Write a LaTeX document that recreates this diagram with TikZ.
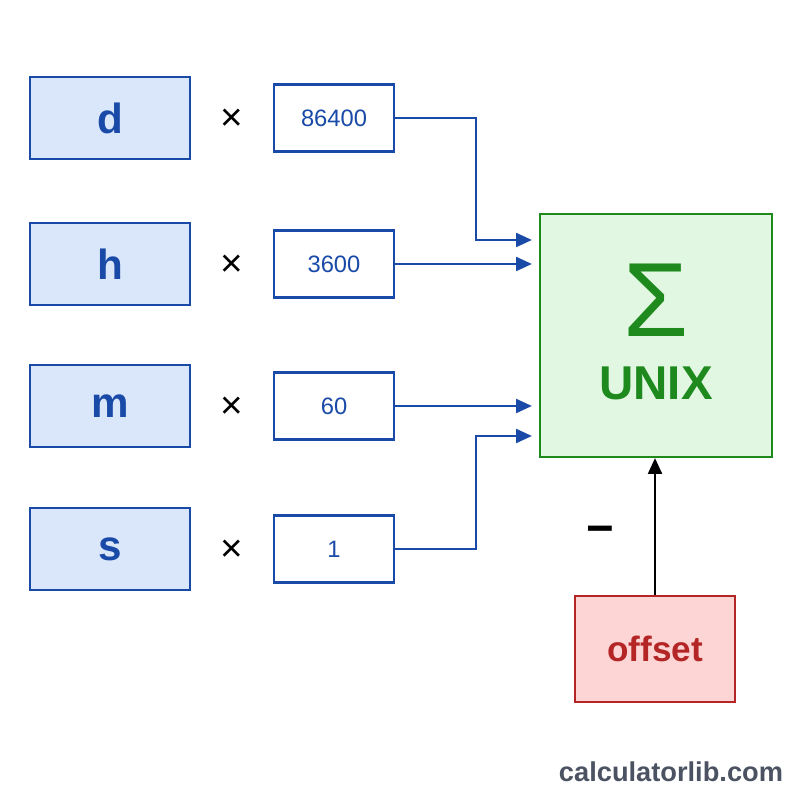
\documentclass[tikz,border=0pt]{standalone}
\usepackage{fontspec}
\setmainfont{Liberation Sans}
\usetikzlibrary{arrows.meta, positioning}
\definecolor{unitblue}{HTML}{1A4AA8}
\definecolor{unitfill}{HTML}{DAE6FA}
\definecolor{sumgreen}{HTML}{1E8A1E}
\definecolor{sumfill}{HTML}{E2F7E2}
\definecolor{offred}{HTML}{B42626}
\definecolor{offfill}{HTML}{FDD5D5}
\definecolor{sitegray}{HTML}{4B5262}

\begin{document}
\begin{tikzpicture}[unitbox/.style={draw=unitblue, fill=unitfill, line width=1.5pt, minimum width=3.2cm, minimum height=1.64cm, inner sep=0pt, text=unitblue, font=\fontsize{24}{24}\selectfont\bfseries}, facbox/.style={draw=unitblue, fill=white, line width=1.5pt, minimum width=2.4cm, minimum height=1.34cm, inner sep=0pt, text=unitblue, font=\fontsize{13.5}{13.5}\selectfont}, flow/.style={draw=unitblue, line width=1.1pt, -{Triangle[length=9pt, width=8pt]}, shorten >=1.4mm}]
\useasboundingbox (0,0) rectangle (16,16);
\foreach \name/\fac/\y in {d/86400/13.64, h/3600/10.72, m/60/7.88, s/1/5.02}{\node[unitbox] (unit-\name) at (2.2,\y) {\name};\node[font=\fontsize{22}{22}\selectfont] (times-\name) at (4.64,\y-0.03) {×};\node[facbox] (fac-\name) at (6.68,\y) {\fac};}
\node[draw=sumgreen, fill=sumfill, line width=1.3pt, minimum width=4.64cm, minimum height=4.86cm] (unix) at (13.12,9.29) {};
\node[text=sumgreen, font=\fontsize{60}{60}\selectfont] (sigma) at (13.12,10.0) {Σ};
\node[text=sumgreen, font=\fontsize{27}{27}\selectfont\bfseries] (unixlab) at (13.12,8.34) {UNIX};
\node[draw=offred, fill=offfill, line width=1.2pt, minimum width=3.2cm, minimum height=2.12cm, text=offred, font=\fontsize{20}{20}\selectfont\bfseries] (offset) at (13.1,3.02) {offset};
\node[font=\fontsize{27}{27}\selectfont\bfseries] (minus) at (12.0,5.30) {−};
\draw[flow] (fac-d.east) -- (9.52,13.64) |- ([yshift=1.91cm]unix.west);
\draw[flow] (fac-h.east) -- (fac-h.east -| unix.west);
\draw[flow] (fac-m.east) -- (fac-m.east -| unix.west);
\draw[flow] (fac-s.east) -- (9.52,5.02) |- ([yshift=-2.01cm]unix.west);
\draw[line width=1.1pt, -{Triangle[length=9pt, width=8pt]}] (offset.north) -- (offset.north |- unix.south);
\node[text=sitegray, font=\fontsize{15.5}{15.5}\selectfont\bfseries] (site) at (13.42,0.56) {calculatorlib.com};
\end{tikzpicture}
\end{document}
